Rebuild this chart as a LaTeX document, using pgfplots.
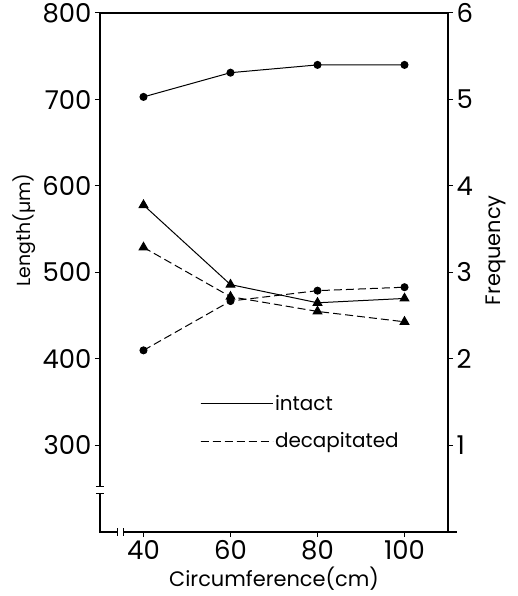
\documentclass[border=0pt]{standalone}
\usepackage{fontspec}
\setmainfont{Poppins}
\usepackage{pgfplots}
\pgfplotsset{compat=1.18}

% circumference (cm) vs length
\pgfplotstableread{
x   y
40  703
60  731
80  740
100 740
}\intactcirc
\pgfplotstableread{
x   y
40  578
60  486
80  465
100 470
}\intacttri
\pgfplotstableread{
x   y
40  410
60  467
80  479
100 483
}\decapcirc
\pgfplotstableread{
x   y
40  529
60  472
80  455
100 443
}\decaptri

\begin{document}
\begin{tikzpicture}
\pgfplotsset{
  every axis/.append style={
    scale only axis, width=348bp, height=519bp,
    xmin=30, xmax=110,
    tick align=outside, major tick length=5bp,
    tick label style={font=\fontsize{26}{30}\selectfont},
    label style={font=\fontsize{21}{25}\selectfont},
    /pgf/number format/assume math mode=true,
    axis line style={line width=1.3bp},
    every tick/.style={line width=1bp, black},
    clip=false,
  },
}
\begin{axis}[
    ymin=200, ymax=800,
    xtick={40,60,80,100}, ytick={300,400,...,800},
    ytick pos=left, xtick pos=bottom,
    xlabel={Circumference(cm)},
    ylabel={Length(µm)},
    xlabel style={at={(axis description cs:0.5,-0.09)}, anchor=center},
    ylabel style={at={(axis description cs:-0.218,0.582)}, anchor=center,
      font=\fontsize{19}{23}\selectfont},
    legend style={at={(axis description cs:0.287,0.268)}, anchor=north west,
      draw=none, fill=none, inner sep=0pt,
      row sep=17bp, font=\fontsize{20}{24}\selectfont},
    legend cell align=left,
    legend image code/.code={\draw[#1] (0bp,0bp) -- (53bp,0bp); \path (0bp,0bp) -- (72bp,0bp);},
  ]
  \coordinate (bl) at (rel axis cs:0,0);
  \addplot[black, line width=1bp, mark=*, mark size=3.5bp] table[x=x,y=y] {\intactcirc};
  \addplot[black, line width=1bp, mark=triangle*, mark size=5bp, forget plot] table[x=x,y=y] {\intacttri};
  \addplot[black, line width=1bp, dash pattern=on 8bp off 4bp, mark=*, mark size=3.5bp, mark options={solid}] table[x=x,y=y] {\decapcirc};
  \addplot[black, line width=1bp, dash pattern=on 8bp off 4bp, mark=triangle*, mark size=5bp, mark options={solid}, forget plot] table[x=x,y=y] {\decaptri};
  \legend{intact, decapitated}
  % axis breaks
  \fill[white] (axis cs:29.6,245) rectangle (axis cs:30.4,253);
  \draw[line width=1bp] (axis cs:29.08,253) -- (axis cs:30.92,253);
  \draw[line width=1bp] (axis cs:29.08,245) -- (axis cs:30.92,245);
  \fill[white] (axis cs:34.1,198.2) rectangle (axis cs:35.3,201.8);
  \draw[line width=1bp] (axis cs:34.1,195.4) -- (axis cs:34.1,204.6);
  \draw[line width=1bp] (axis cs:35.3,195.4) -- (axis cs:35.3,204.6);
  \draw[line width=1.3bp] (axis cs:110,200) -- (axis cs:112.1,200);
\end{axis}
\begin{axis}[
    ymin=0, ymax=6,
    axis x line=none, axis y line*=right,
    ytick={1,...,6},
    ylabel={Frequency},
    ylabel style={at={(axis description cs:1.138,0.543)}, anchor=center},
  ]
\end{axis}
\pgfresetboundingbox
\path (bl) ++(-100bp,-64bp) rectangle ++(518bp,596bp);
\end{tikzpicture}
\end{document}
